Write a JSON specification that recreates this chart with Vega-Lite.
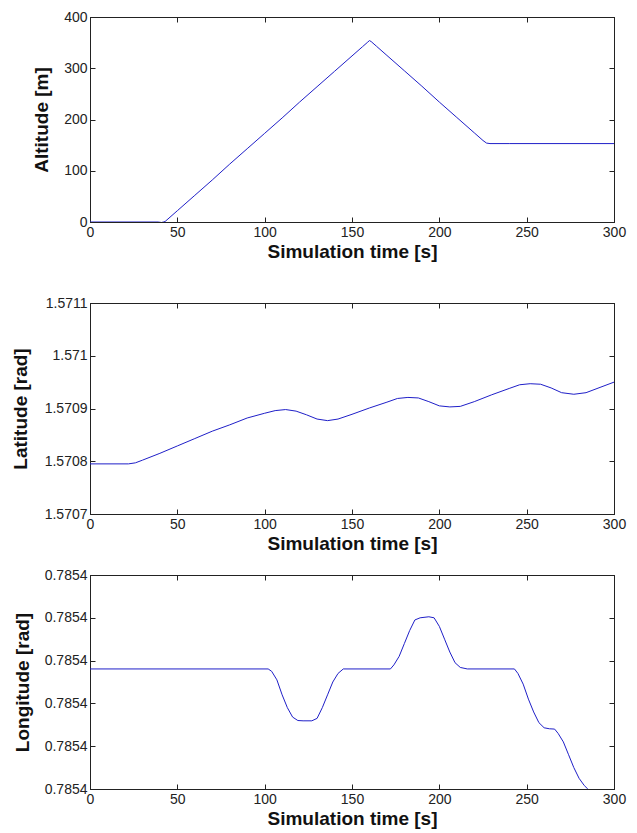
{
  "$schema": "https://vega.github.io/schema/vega-lite/v6.json",
  "background": "white",
  "padding": {"left": 10, "top": 9, "right": 0, "bottom": 0},
  "spacing": 33,
  "config": {
    "view": {"stroke": "#222", "strokeWidth": 1},
    "axis": {
      "grid": false,
      "domainColor": "#222",
      "tickColor": "#222",
      "tickSize": -5,
      "labelPadding": 8,
      "labelFlush": false,
      "labelFont": "Liberation Sans",
      "labelFontSize": 14,
      "labelColor": "#222",
      "titleFont": "Liberation Sans",
      "titleFontSize": 19,
      "titleFontWeight": "bold",
      "titleColor": "#111"
    }
  },
  "datasets": {
    "alt": [
      {"t": 0, "v": 0}, {"t": 39, "v": 0}, {"t": 41, "v": -1}, {"t": 42, "v": 0}, {"t": 43, "v": 1},
      {"t": 50, "v": 22}, {"t": 60, "v": 52}, {"t": 70, "v": 82}, {"t": 80, "v": 113}, {"t": 90, "v": 143},
      {"t": 100, "v": 173}, {"t": 110, "v": 203}, {"t": 120, "v": 234}, {"t": 130, "v": 264}, {"t": 140, "v": 294},
      {"t": 150, "v": 324}, {"t": 156, "v": 342}, {"t": 159, "v": 351}, {"t": 160, "v": 354}, {"t": 161, "v": 352},
      {"t": 164, "v": 343}, {"t": 170, "v": 325}, {"t": 180, "v": 295}, {"t": 190, "v": 265}, {"t": 200, "v": 234},
      {"t": 210, "v": 204}, {"t": 220, "v": 174}, {"t": 225, "v": 159}, {"t": 227, "v": 154}, {"t": 229, "v": 153},
      {"t": 240, "v": 153}, {"t": 300, "v": 153}
    ],
    "lat": [
      {"t": 0, "v": 1.570795}, {"t": 22, "v": 1.570795}, {"t": 26, "v": 1.570797}, {"t": 30, "v": 1.570802},
      {"t": 40, "v": 1.570815}, {"t": 50, "v": 1.570829}, {"t": 60, "v": 1.570843}, {"t": 70, "v": 1.570857},
      {"t": 80, "v": 1.570869}, {"t": 90, "v": 1.570882}, {"t": 100, "v": 1.570891}, {"t": 106, "v": 1.570896},
      {"t": 112, "v": 1.570898}, {"t": 118, "v": 1.570895}, {"t": 124, "v": 1.570888}, {"t": 130, "v": 1.57088},
      {"t": 136, "v": 1.570877}, {"t": 142, "v": 1.57088}, {"t": 150, "v": 1.570889}, {"t": 160, "v": 1.570901},
      {"t": 170, "v": 1.570912}, {"t": 176, "v": 1.570919}, {"t": 182, "v": 1.570921}, {"t": 188, "v": 1.57092},
      {"t": 194, "v": 1.570913}, {"t": 200, "v": 1.570905}, {"t": 206, "v": 1.570903}, {"t": 212, "v": 1.570904},
      {"t": 220, "v": 1.570913}, {"t": 230, "v": 1.570926}, {"t": 240, "v": 1.570938}, {"t": 246, "v": 1.570945},
      {"t": 252, "v": 1.570947}, {"t": 258, "v": 1.570946}, {"t": 264, "v": 1.570939}, {"t": 270, "v": 1.57093},
      {"t": 277, "v": 1.570927}, {"t": 284, "v": 1.57093}, {"t": 292, "v": 1.57094}, {"t": 300, "v": 1.57095}
    ],
    "lon": [
      {"t": 0, "v": 0.78539802805}, {"t": 102, "v": 0.78539802805}, {"t": 104, "v": 0.7853980275},
      {"t": 107, "v": 0.7853980255}, {"t": 110, "v": 0.785398022}, {"t": 113, "v": 0.785398019},
      {"t": 116, "v": 0.7853980168}, {"t": 119, "v": 0.785398016}, {"t": 122, "v": 0.78539801593},
      {"t": 127, "v": 0.78539801593}, {"t": 130, "v": 0.7853980165}, {"t": 133, "v": 0.785398019},
      {"t": 136, "v": 0.785398022}, {"t": 139, "v": 0.785398025}, {"t": 142, "v": 0.785398027},
      {"t": 145, "v": 0.78539802805}, {"t": 172, "v": 0.78539802805}, {"t": 174, "v": 0.785398029},
      {"t": 177, "v": 0.785398031}, {"t": 180, "v": 0.785398034}, {"t": 183, "v": 0.785398037},
      {"t": 186, "v": 0.7853980395}, {"t": 189, "v": 0.785398040}, {"t": 194, "v": 0.78539804024},
      {"t": 197, "v": 0.785398040}, {"t": 200, "v": 0.785398038}, {"t": 203, "v": 0.785398035},
      {"t": 206, "v": 0.785398032}, {"t": 209, "v": 0.7853980295}, {"t": 212, "v": 0.7853980284},
      {"t": 216, "v": 0.78539802805}, {"t": 243, "v": 0.78539802805}, {"t": 245, "v": 0.785398027},
      {"t": 248, "v": 0.7853980245}, {"t": 251, "v": 0.785398021}, {"t": 254, "v": 0.785398018},
      {"t": 257, "v": 0.7853980155}, {"t": 260, "v": 0.7853980143}, {"t": 263, "v": 0.78539801407},
      {"t": 266, "v": 0.785398014}, {"t": 268, "v": 0.785398013}, {"t": 271, "v": 0.785398011},
      {"t": 274, "v": 0.785398008}, {"t": 277, "v": 0.785398005}, {"t": 280, "v": 0.7853980025},
      {"t": 283, "v": 0.7853980008}, {"t": 285, "v": 0.785398}, {"t": 288, "v": 0.7853979975},
      {"t": 292, "v": 0.785397994}
    ]
  },
  "vconcat": [
    {
      "width": 524, "height": 205,
      "data": {"name": "alt"},
      "resolve": {"axis": {"x": "independent", "y": "independent"}},
      "layer": [
        {
          "mark": {"type": "line", "color": "#1f1fc8", "strokeWidth": 1, "clip": true},
          "encoding": {
            "x": {"field": "t", "type": "quantitative", "scale": {"domain": [0, 300], "nice": false}, "axis": {"values": [0, 50, 100, 150, 200, 250, 300], "title": "Simulation time [s]", "titlePadding": 3}},
            "y": {"field": "v", "type": "quantitative", "scale": {"domain": [0, 400], "nice": false}, "axis": {"values": [0, 100, 200, 300, 400], "title": "Altitude [m]", "titlePadding": 12}}
          }
        },
        {
          "mark": {"type": "line", "opacity": 0},
          "encoding": {
            "x": {"field": "t", "type": "quantitative", "axis": {"orient": "top", "values": [0, 50, 100, 150, 200, 250, 300], "labels": false, "title": null}},
            "y": {"field": "v", "type": "quantitative", "axis": {"orient": "right", "values": [0, 100, 200, 300, 400], "labels": false, "title": null}}
          }
        }
      ]
    },
    {
      "spacing": 13,
      "vconcat": [
        {
          "width": 524, "height": 211,
          "data": {"name": "lat"},
          "resolve": {"axis": {"x": "independent", "y": "independent"}},
          "layer": [
            {
              "mark": {"type": "line", "color": "#1f1fc8", "strokeWidth": 1, "clip": true},
              "encoding": {
                "x": {"field": "t", "type": "quantitative", "scale": {"domain": [0, 300], "nice": false}, "axis": {"values": [0, 50, 100, 150, 200, 250, 300], "title": "Simulation time [s]", "titlePadding": 3}},
                "y": {"field": "v", "type": "quantitative", "scale": {"domain": [1.5707, 1.5711], "nice": false, "zero": false}, "axis": {"values": [1.5707, 1.5708, 1.5709, 1.571, 1.5711], "format": ".5~g", "title": "Latitude [rad]", "titlePadding": 14}}
              }
            },
            {
              "mark": {"type": "line", "opacity": 0},
              "encoding": {
                "x": {"field": "t", "type": "quantitative", "axis": {"orient": "top", "values": [0, 50, 100, 150, 200, 250, 300], "labels": false, "title": null}},
                "y": {"field": "v", "type": "quantitative", "axis": {"orient": "right", "values": [1.5707, 1.5708, 1.5709, 1.571, 1.5711], "labels": false, "title": null}}
              }
            }
          ]
        },
        {
          "width": 524, "height": 214,
          "data": {"name": "lon"},
          "resolve": {"axis": {"x": "independent", "y": "independent"}},
          "layer": [
            {
              "mark": {"type": "line", "color": "#1f1fc8", "strokeWidth": 1, "clip": true},
              "encoding": {
                "x": {"field": "t", "type": "quantitative", "scale": {"domain": [0, 300], "nice": false}, "axis": {"values": [0, 50, 100, 150, 200, 250, 300], "title": "Simulation time [s]", "titlePadding": 3}},
                "y": {"field": "v", "type": "quantitative", "scale": {"domain": [0.785398, 0.78539805], "nice": false, "zero": false}, "axis": {"values": [0.785398, 0.78539801, 0.78539802, 0.78539803, 0.78539804, 0.78539805], "format": ".4f", "title": "Longitude [rad]", "titlePadding": 12}}
              }
            },
            {
              "mark": {"type": "line", "opacity": 0},
              "encoding": {
                "x": {"field": "t", "type": "quantitative", "axis": {"orient": "top", "values": [0, 50, 100, 150, 200, 250, 300], "labels": false, "title": null}},
                "y": {"field": "v", "type": "quantitative", "axis": {"orient": "right", "values": [0.785398, 0.78539801, 0.78539802, 0.78539803, 0.78539804, 0.78539805], "labels": false, "title": null}}
              }
            }
          ]
        }
      ]
    }
  ]
}
